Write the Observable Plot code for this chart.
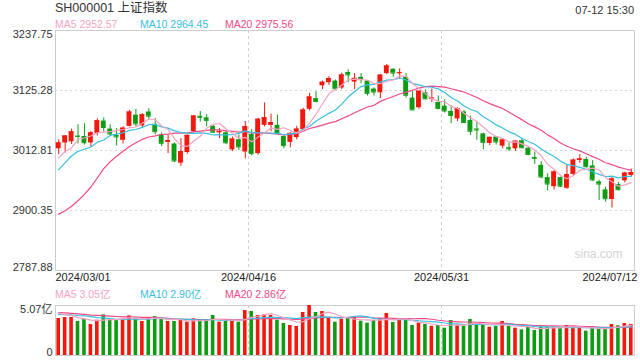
<!DOCTYPE html>
<html><head><meta charset="utf-8">
<script src="https://cdn.jsdelivr.net/npm/d3@7"></script>
<script src="https://cdn.jsdelivr.net/npm/@observablehq/plot@0.6"></script>
<style>
html,body{margin:0;padding:0;background:#fff;}
#wrap{position:relative;width:640px;height:360px;overflow:hidden;font-family:"Liberation Sans",Arial,"Noto Sans CJK SC",sans-serif;color:#333;}
.t{position:absolute;white-space:nowrap;line-height:14px;}
#wrap svg{position:absolute;left:0;}
</style></head><body><div id="wrap"></div>
<script>
// ---------- data ----------
const title = "SH000001 上证指数";
const stamp = "07-12 15:30";
const dates = [
"2024-03-01","2024-03-04","2024-03-05","2024-03-06","2024-03-07","2024-03-08",
"2024-03-11","2024-03-12","2024-03-13","2024-03-14","2024-03-15",
"2024-03-18","2024-03-19","2024-03-20","2024-03-21","2024-03-22",
"2024-03-25","2024-03-26","2024-03-27","2024-03-28","2024-03-29",
"2024-04-01","2024-04-02","2024-04-03",
"2024-04-08","2024-04-09","2024-04-10","2024-04-11","2024-04-12",
"2024-04-15","2024-04-16","2024-04-17","2024-04-18","2024-04-19",
"2024-04-22","2024-04-23","2024-04-24","2024-04-25","2024-04-26",
"2024-04-29","2024-04-30",
"2024-05-06","2024-05-07","2024-05-08","2024-05-09","2024-05-10",
"2024-05-13","2024-05-14","2024-05-15","2024-05-16","2024-05-17",
"2024-05-20","2024-05-21","2024-05-22","2024-05-23","2024-05-24",
"2024-05-27","2024-05-28","2024-05-29","2024-05-30","2024-05-31",
"2024-06-03","2024-06-04","2024-06-05","2024-06-06","2024-06-07",
"2024-06-11","2024-06-12","2024-06-13","2024-06-14",
"2024-06-17","2024-06-18","2024-06-19","2024-06-20","2024-06-21",
"2024-06-24","2024-06-25","2024-06-26","2024-06-27","2024-06-28",
"2024-07-01","2024-07-02","2024-07-03","2024-07-04","2024-07-05",
"2024-07-08","2024-07-09","2024-07-10","2024-07-11","2024-07-12"];
const open = [3016,3027,3029,3040,3039,3027,3045,3068,3053,3041,3032,3058,3079,3059,3085,3062,3042,3028,3025,2989,3009,3048,3077,3074,3058,3046,3046,3014,3033,3010,3043,3007,3060,3060,3060,3039,3028,3037,3052,3090,3110,3134,3140,3143,3130,3159,3141,3150,3143,3128,3121,3157,3165,3157,3150,3111,3093,3121,3109,3103,3096,3086,3072,3085,3069,3053,3044,3026,3038,3021,3018,3016,3031,3017,3000,2985,2962,2945,2962,2942,2968,2994,2996,2984,2954,2939,2921,2949,2956,2966];
const high = [3033,3041,3053,3061,3063,3048,3072,3074,3061,3054,3057,3088,3090,3082,3091,3073,3046,3041,3027,3035,3042,3078,3086,3080,3060,3054,3050,3038,3042,3067,3052,3073,3102,3081,3079,3040,3046,3058,3092,3120,3123,3143,3151,3145,3158,3164,3157,3157,3144,3130,3155,3174,3166,3166,3157,3123,3124,3126,3128,3115,3108,3097,3093,3088,3077,3066,3045,3038,3039,3035,3027,3031,3035,3020,3010,2992,2969,2975,2963,2985,2997,3005,3000,2994,2957,2944,2963,2953,2972,2978];
const low = [3005,3008,3024,3025,3023,3020,3040,3047,3040,3021,3025,3057,3057,3055,3070,3042,3020,3007,2990,2983,3006,3046,3066,3057,3046,3035,3024,3011,3013,2997,3003,3004,3057,3048,3043,3016,3018,3033,3050,3087,3102,3127,3135,3126,3127,3140,3127,3138,3115,3115,3110,3155,3150,3146,3111,3088,3090,3108,3103,3089,3083,3063,3067,3063,3041,3032,3014,3022,3023,3016,3011,3011,3016,3003,2987,2960,2937,2939,2944,2940,2964,2989,2980,2955,2919,2916,2905,2937,2952,2963];
const close = [3027.02,3039.93,3047.79,3039.31,3027.40,3046.02,3068.46,3055.94,3043.83,3038.23,3054.64,3084.93,3062.76,3079.69,3077.11,3048.03,3026.31,3031.48,2993.14,3010.66,3041.17,3077.38,3074.96,3069.30,3047.05,3048.54,3027.34,3034.25,3019.47,3057.38,3007.07,3071.38,3074.22,3065.26,3044.60,3021.98,3044.82,3052.90,3088.64,3113.04,3104.82,3140.72,3147.74,3128.48,3154.32,3154.55,3148.02,3145.77,3119.90,3122.40,3154.03,3171.15,3157.97,3158.54,3116.39,3088.87,3124.04,3109.57,3111.02,3091.68,3086.81,3078.49,3091.20,3065.40,3048.79,3051.28,3028.05,3037.47,3028.92,3032.63,3015.89,3030.25,3018.05,3005.44,2998.14,2963.10,2950.00,2972.53,2945.85,2967.40,2994.73,2997.01,2982.38,2957.57,2949.93,2922.45,2959.37,2939.36,2970.39,2971.30];
// volume, 亿
const volume = [3.75,3.85,3.85,3.45,3.68,3.14,3.58,4.12,3.68,3.65,3.68,4.02,3.79,3.45,3.79,3.95,3.72,3.45,3.45,3.55,3.38,3.72,3.52,3.58,4.06,3.38,3.45,3.45,3.38,4.56,4.46,4.06,4.12,4.06,3.58,3.24,3.04,2.94,4.36,5.07,4.36,4.46,3.75,3.38,3.68,3.75,3.89,3.48,3.28,3.55,3.75,4.26,3.35,3.55,3.55,3.04,3.28,3.14,2.97,3.04,2.77,3.55,3.08,2.97,3.65,3.14,3.14,2.87,2.94,3.45,2.94,2.77,2.60,2.91,2.54,2.87,2.87,2.87,2.84,3.04,2.91,2.84,2.47,2.77,2.77,2.74,3.14,3.01,3.24,3.14];
// closes / volumes of the sessions just before the window (feed the moving averages)
const priorCloses = [2910.22,2883.36,2830.53,2788.55,2770.74,2730.15,2702.19,2789.49,2829.70,2865.90,2910.54,2922.73,2950.96,2988.36,3004.88,2977.02,3015.48,2957.85,3015.17];
const priorVolumes = [4.7,4.9,4.4,4.6,4.5,4.3,4.8,4.5,4.4,4.5,4.1,3.9,4.2,3.95,4.0,4.6,4.3,4.5,4.3];
const maPeriods = [5, 10, 20];
const yTicks = [3237.75, 3125.28, 3012.81, 2900.35, 2787.88];
const volTicks = [5.07, 0];
const xLabelDates = ["2024-03-01","2024-04-16","2024-05-31","2024-07-12"];
const gridDates = ["2024-04-16","2024-05-31"];

// ---------- styling ----------
const FONT = '"Liberation Sans", Arial, "Noto Sans CJK SC", sans-serif';
const RED = "#f2180c", GREEN = "#0f9c14";
const MA_COLORS = ["#f5a3c2", "#38c0e2", "#ee4a86"];
const N = dates.length;

const candles = dates.map((d, i) => ({i, date: d, open: open[i], high: high[i], low: low[i], close: close[i], vol: volume[i], col: close[i] >= open[i] ? RED : GREEN}));
function mov(arr, off, n, i) { let s = 0; for (let k = off + i - n + 1; k <= off + i; k++) s += arr[k]; return s / n; }
const allC = priorCloses.concat(close), allV = priorVolumes.concat(volume);
const maRows = candles.map(c => {
  const r = {i: c.i};
  maPeriods.forEach(p => { r["p" + p] = mov(allC, priorCloses.length, p, c.i); r["v" + p] = mov(allV, priorVolumes.length, p, c.i); });
  return r;
});
const gridIdx = gridDates.map(d => dates.indexOf(d));
const xl = xLabelDates.map((d, k) => ({pos: dates.indexOf(d) + (k === xLabelDates.length - 1 ? 1 : 0), label: d.replace(/-/g, "/")}));

const wrap = document.getElementById("wrap");
function addText(txt, css) { const s = document.createElement("div"); s.className = "t"; s.textContent = txt; Object.assign(s.style, css); wrap.appendChild(s); }

addText(title, {left: "55px", top: "1px", fontSize: "12.5px", color: "#333"});
addText(stamp, {right: "6px", top: "3px", fontSize: "11px", color: "#333"});
const lastMa = maRows[N - 1];
const legX = [55, 140, 225];
maPeriods.forEach((p, k) => {
  addText(`MA${p} ${lastMa["p" + p].toFixed(2)}`, {left: legX[k] + "px", top: "16.5px", fontSize: "10.5px", color: MA_COLORS[k]});
  addText(`MA${p} ${lastMa["v" + p].toFixed(2)}亿`, {left: legX[k] + "px", top: "287px", fontSize: "10.5px", color: MA_COLORS[k]});
});

const common = {width: 640, marginLeft: 55, marginRight: 6,
  x: {domain: [0, N], axis: null}, color: {type: "identity"},
  style: {fontFamily: FONT, fontSize: "11px", color: "#333", background: "transparent", overflow: "visible"}};

const price = Plot.plot({...common, height: 290, marginTop: 30, marginBottom: 20,
  y: {domain: [yTicks[yTicks.length - 1], yTicks[0]], axis: null},
  marks: [
    Plot.ruleY(yTicks.slice(1, -1), {stroke: "#d6d6d6", strokeDasharray: "2,3"}),
    Plot.ruleX(gridIdx, {stroke: "#cfcfcf", strokeDasharray: "3,3"}),
    Plot.frame({stroke: "#cccccc"}),
    Plot.text(["sina.com"], {frameAnchor: "bottom-right", text: d => d, dx: -12, dy: -13, fill: "#d2d2d2", fontSize: 12}),
    Plot.ruleX(candles, {x: d => d.i + 0.5, y1: "low", y2: "high", stroke: "col", strokeWidth: 1}),
    Plot.rect(candles, {x1: d => d.i + 0.12, x2: d => d.i + 0.88, y1: "open", y2: "close", fill: "col"}),
    Plot.ruleY(candles, {x1: d => d.i + 0.12, x2: d => d.i + 0.88, y: "close", stroke: "col"}),
    ...maPeriods.slice().reverse().map((p, k) => Plot.line(maRows, {x: d => d.i + 0.5, y: "p" + p, stroke: MA_COLORS[maPeriods.length - 1 - k], strokeWidth: 1.2})),
    Plot.text([yTicks[0]], {y: d => d, text: d => d.toFixed(2), frameAnchor: "left", textAnchor: "end", dx: -3, lineAnchor: "top", fill: "#333"}),
    Plot.text(yTicks.slice(1, -1), {y: d => d, text: d => d.toFixed(2), frameAnchor: "left", textAnchor: "end", dx: -3, lineAnchor: "middle", fill: "#333"}),
    Plot.text([yTicks[yTicks.length - 1]], {y: d => d, text: d => d.toFixed(2), frameAnchor: "left", textAnchor: "end", dx: -3, lineAnchor: "bottom", fill: "#333"}),
    Plot.text(xl.slice(0, 1), {x: "pos", text: "label", frameAnchor: "bottom", lineAnchor: "top", textAnchor: "start", dy: 3, fill: "#222"}),
    Plot.text(xl.slice(1, -1), {x: "pos", text: "label", frameAnchor: "bottom", lineAnchor: "top", textAnchor: "middle", dy: 3, fill: "#222"}),
    Plot.text(xl.slice(-1), {x: "pos", text: "label", frameAnchor: "bottom", lineAnchor: "top", textAnchor: "end", dx: 3, dy: 3, fill: "#222"})
  ]});
price.style.top = "0px";
wrap.appendChild(price);

const vol = Plot.plot({...common, height: 70, marginTop: 15, marginBottom: 5,
  y: {domain: [0, volTicks[0]], axis: null},
  marks: [
    Plot.ruleX(gridIdx, {stroke: "#cfcfcf", strokeDasharray: "3,3"}),
    Plot.frame({stroke: "#cccccc"}),
    Plot.rect(candles, {x1: d => d.i + 0.22, x2: d => d.i + 0.78, y1: 0, y2: "vol", fill: "col"}),
    ...maPeriods.slice().reverse().map((p, k) => Plot.line(maRows, {x: d => d.i + 0.5, y: "v" + p, stroke: MA_COLORS[maPeriods.length - 1 - k], strokeWidth: 1.2})),
    Plot.text(volTicks.slice(0, 1), {y: d => d, text: d => d.toFixed(2) + "亿", frameAnchor: "left", textAnchor: "end", dx: -3, lineAnchor: "top", fill: "#333"}),
    Plot.text(volTicks.slice(1), {y: d => d, text: d => String(d), frameAnchor: "left", textAnchor: "end", dx: -3, lineAnchor: "bottom", fill: "#333"})
  ]});
vol.style.top = "290px";
wrap.appendChild(vol);
</script></body></html>
